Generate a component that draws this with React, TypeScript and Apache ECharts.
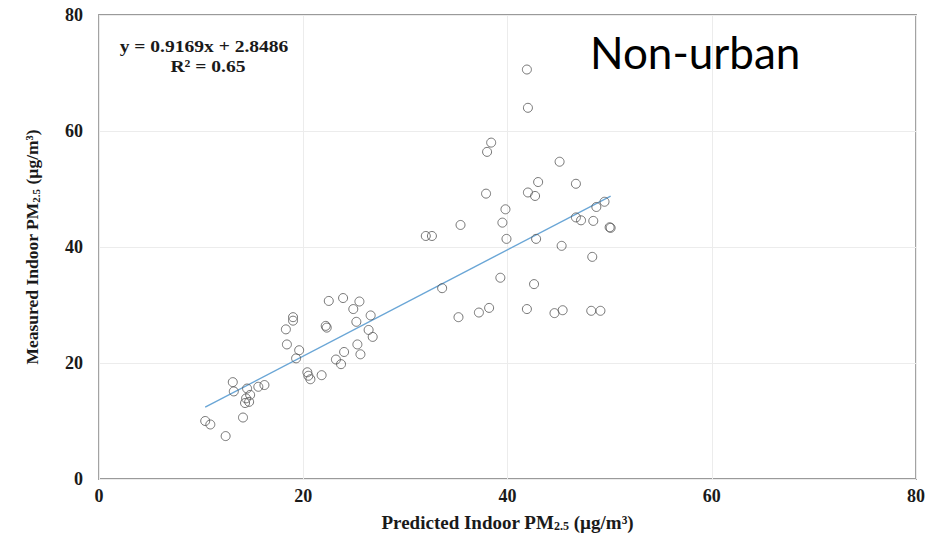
import React, { useEffect, useRef } from "react";
import * as echarts from "echarts";

// Predicted indoor PM2.5 (x) and measured indoor PM2.5 (y)
const predicted = [
  10.4, 10.9, 12.4, 14.1, 13.1, 13.2, 14.5, 14.8, 14.4, 14.3, 14.7, 15.6, 16.2,
  18.3, 19.0, 19.0, 18.4, 19.6, 19.3, 20.4, 20.5, 20.7, 21.8, 22.2, 22.3, 22.5,
  23.9, 25.5, 24.9, 25.2, 26.6, 26.4, 26.8, 25.3, 25.6, 24.0, 23.2, 23.7,
  32.0, 32.6, 35.4, 33.6, 35.2, 37.2, 38.2, 39.3, 39.8, 39.5, 39.9, 41.9, 42.6,
  42.8, 41.9, 42.0, 38.4, 38.0, 45.1, 37.9, 43.0, 42.0, 42.7, 46.7, 49.5, 48.7,
  50.0, 50.1, 45.3, 46.7, 47.2, 48.4, 48.3, 44.6, 45.4, 48.2, 49.1,
];
const measured = [
  10.0, 9.4, 7.4, 10.6, 16.7, 15.1, 15.6, 14.5, 13.9, 13.1, 13.3, 15.9, 16.2,
  25.8, 27.9, 27.3, 23.2, 22.2, 20.8, 18.4, 17.8, 17.2, 17.9, 26.4, 26.1, 30.7,
  31.2, 30.6, 29.3, 27.1, 28.2, 25.7, 24.5, 23.2, 21.5, 21.9, 20.6, 19.8,
  41.9, 41.9, 43.8, 32.9, 27.9, 28.7, 29.5, 34.7, 46.5, 44.2, 41.4, 29.3, 33.6,
  41.4, 70.6, 64.0, 58.0, 56.4, 54.7, 49.2, 51.2, 49.4, 48.8, 50.9, 47.8, 46.9,
  43.4, 43.3, 40.2, 45.1, 44.6, 44.5, 38.3, 28.6, 29.1, 29.0, 29.0,
];

// Linear fit reported on the chart
const slope = 0.9169;
const intercept = 2.8486;
const fitRange = [10.4, 50.1];

const axisTicks = [0, 20, 40, 60, 80];

const equationLines = ["y = 0.9169x + 2.8486", "R² = 0.65"];
const panelLabel = "Non-urban";

export default function App() {
  const ref = useRef<HTMLDivElement>(null);

  useEffect(() => {
    document.body.style.margin = "0";
    if (!ref.current) return;
    const chart = echarts.init(ref.current, undefined, { renderer: "svg" });

    const points = predicted.map((x, i) => [x, measured[i]]);
    const fitLine = fitRange.map((x) => [x, slope * x + intercept]);

    const serif = "Liberation Serif";
    const labelStyle = {
      fontFamily: serif,
      fontWeight: "bold" as const,
      fontSize: 18,
      color: "#1a1a1a",
    };
    const makeRich = (size: number) => ({
      sub: {
        fontFamily: serif,
        fontWeight: "bold" as const,
        fontSize: Math.round(size * 0.65),
        color: "#1a1a1a",
        padding: [8, 0, 0, 0],
      },
    });

    chart.setOption({
      animation: false,
      backgroundColor: "#ffffff",
      grid: {
        left: 99,
        right: 18,
        top: 15,
        bottom: 60,
        show: true,
        borderColor: "#9a9a9a",
        borderWidth: 1.8,
      },
      xAxis: {
        type: "value",
        min: axisTicks[0],
        max: axisTicks[axisTicks.length - 1],
        interval: 20,
        axisLine: { show: false },
        axisTick: { show: false },
        splitLine: { show: true, lineStyle: { color: "#ececec", width: 1 } },
        axisLabel: { ...labelStyle, margin: 8 },
        name: "Predicted Indoor PM{sub|2.5} (µg/m³)",
        nameLocation: "middle",
        nameGap: 33,
        nameTextStyle: {
          fontFamily: serif,
          fontWeight: "bold",
          fontSize: 19,
          color: "#1a1a1a",
          rich: makeRich(19),
        },
      },
      yAxis: {
        type: "value",
        min: axisTicks[0],
        max: axisTicks[axisTicks.length - 1],
        interval: 20,
        axisLine: { show: false },
        axisTick: { show: false },
        splitLine: { show: true, lineStyle: { color: "#ececec", width: 1 } },
        axisLabel: { ...labelStyle, margin: 16 },
        name: "Measured Indoor PM{sub|2.5} (µg/m³)",
        nameLocation: "middle",
        nameGap: 58,
        nameTextStyle: {
          fontFamily: serif,
          fontWeight: "bold",
          fontSize: 17.5,
          color: "#1a1a1a",
          rich: makeRich(17.5),
        },
      },
      series: [
        {
          type: "line",
          data: fitLine,
          symbol: "none",
          lineStyle: { color: "#6aa6d6", width: 1.4 },
          z: 3,
        },
        {
          type: "scatter",
          data: points,
          symbol: "circle",
          symbolSize: 9,
          itemStyle: {
            color: "rgba(255,255,255,0)",
            borderColor: "#555555",
            borderWidth: 1,
          },
          z: 4,
        },
      ],
      graphic: [
        {
          type: "text",
          x: 204,
          y: 46,
          scaleX: 1.15,
          style: {
            text: equationLines[0],
            fontFamily: serif,
            fontWeight: "bold",
            fontSize: 17,
            fill: "#1a1a1a",
            align: "center",
            verticalAlign: "middle",
          },
        },
        {
          type: "text",
          x: 208,
          y: 66,
          scaleX: 1.15,
          style: {
            text: equationLines[1],
            fontFamily: serif,
            fontWeight: "bold",
            fontSize: 17,
            fill: "#1a1a1a",
            align: "center",
            verticalAlign: "middle",
          },
        },
        {
          type: "text",
          x: 590,
          y: 52,
          style: {
            text: panelLabel,
            fontFamily: "Lato",
            fontSize: 44,
            fill: "#000000",
            align: "left",
            verticalAlign: "middle",
          },
        },
      ],
    });

    return () => chart.dispose();
  }, []);

  return <div ref={ref} style={{ width: 934, height: 539 }} />;
}
